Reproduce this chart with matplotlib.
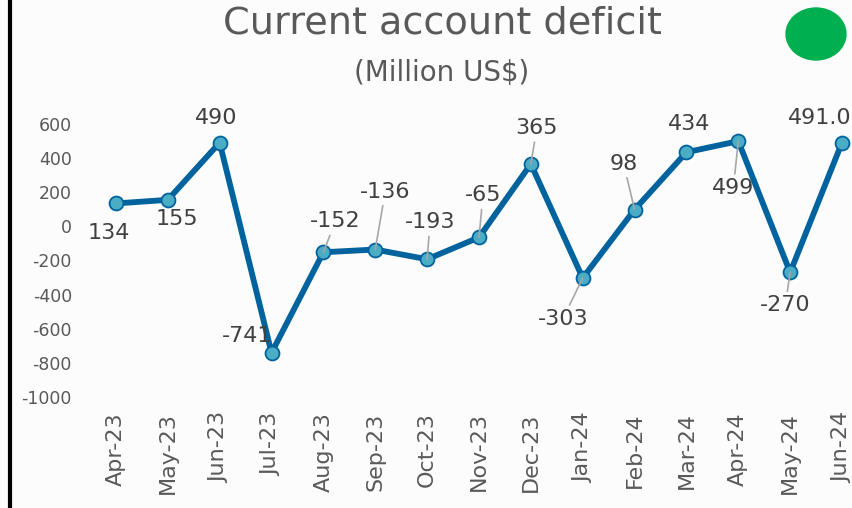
import matplotlib.pyplot as plt
from matplotlib.patches import Ellipse
from matplotlib.lines import Line2D

months = ['Apr-23', 'May-23', 'Jun-23', 'Jul-23', 'Aug-23', 'Sep-23', 'Oct-23',
          'Nov-23', 'Dec-23', 'Jan-24', 'Feb-24', 'Mar-24', 'Apr-24', 'May-24', 'Jun-24']
deficit = [134, 155, 490, -741, -152, -136, -193, -65, 365, -303, 98, 434, 499, -270, 491]
value_labels = ['134', '155', '490', '-741', '-152', '-136', '-193', '-65', '365',
                '-303', '98', '434', '499', '-270', '491.0']
y_ticks = [600, 400, 200, 0, -200, -400, -600, -800, -1000]

# label offsets in pixels (dx, dy), and whether a leader line is drawn
offsets = [(-7, -30), (9, -19), (-3, 25), (-24, 17), (12, 31), (10, 58), (3, 37),
           (4, 42), (6, 36), (-20, -41), (-11, 46), (3, 28), (-5, -47), (-5, -33), (-22, 25)]
leader = [False, False, False, False, True, True, True, True, True, True, True, False, True, True, False]

line_col = '#00639e'
marker_col = '#4bacc6'
text_col = '#404040'
axis_col = '#595959'

fig = plt.figure(figsize=(8.53, 5.08), dpi=100)
fig.patch.set_facecolor('#fcfcfc')

ax = fig.add_axes([90 / 853, 1 - 397 / 508, 1 - 90 / 853, (397 - 100) / 508])
ax.set_facecolor('none')
x = list(range(len(months)))
ax.plot(x, deficit, color=line_col, lw=4.2, marker='o', markersize=10,
        markerfacecolor=marker_col, markeredgecolor=line_col, markeredgewidth=1.3,
        solid_joinstyle='miter', zorder=3)

for i, (v, lab) in enumerate(zip(deficit, value_labels)):
    dx, dy = offsets[i]
    if leader[i]:
        ax.annotate(lab, xy=(i, v), xytext=(dx, dy), textcoords='offset pixels',
                    ha='center', va='center', fontsize=16, color=text_col,
                    arrowprops=dict(arrowstyle='-', color='#a6a6a6', lw=1.2,
                                    shrinkA=1, shrinkB=0),
                    annotation_clip=False, zorder=4)
    else:
        ax.annotate(lab, xy=(i, v), xytext=(dx, dy), textcoords='offset pixels',
                    ha='center', va='center', fontsize=16, color=text_col,
                    annotation_clip=False, zorder=4)

ax.set_xlim(-0.5, (853 - 116) / 51.86)
ax.set_ylim(-1000, 740)
ax.set_yticks(y_ticks)
ax.set_yticklabels([str(t) for t in y_ticks], fontsize=12.5, color=axis_col)
ax.set_xticks(x)
ax.set_xticklabels(months, rotation=90, fontsize=16, color=axis_col)
ax.tick_params(axis='both', length=0)
ax.tick_params(axis='y', pad=13)
ax.tick_params(axis='x', pad=11)
for s in ax.spines.values():
    s.set_visible(False)

fig.text(442 / 853, 1 - 23 / 508, 'Current account deficit', ha='center', va='center',
         fontsize=27.5, color=axis_col)
fig.text(442 / 853, 1 - 73 / 508, '(Million US$)', ha='center', va='center',
         fontsize=20, color=axis_col)

fig.add_artist(Ellipse((816 / 853, 1 - 34 / 508), 60 / 853, 52 / 508,
                       transform=fig.transFigure, color='#00b050'))
fig.add_artist(Line2D([10 / 853, 10 / 853], [0, 1], transform=fig.transFigure,
                      color='black', lw=3))

plt.savefig('out.png', dpi=100)
